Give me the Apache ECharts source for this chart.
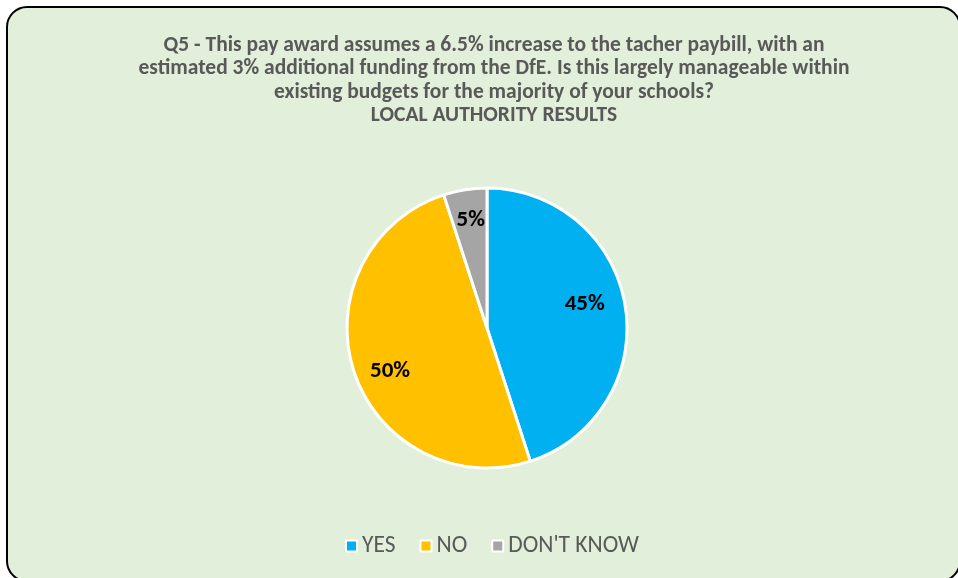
<!DOCTYPE html>
<html>
<head>
<meta charset="utf-8">
<script src="https://cdn.jsdelivr.net/npm/echarts@6/dist/echarts.min.js"></script>
<style>
  html, body { margin: 0; padding: 0; background: #ffffff; }
  #chart { width: 958px; height: 578px; }
</style>
</head>
<body>
<div id="chart"></div>
<script>
// Survey answers for Q5 (local authority results)
const categories = ['YES', 'NO', "DON'T KNOW"];
const shares = [45, 50, 5];
const sliceColors = ['#00B0F0', '#FFC000', '#A5A5A5'];
const titleLines = [
  'Q5 - This pay award assumes a 6.5% increase to the tacher paybill, with an',
  'estimated 3% additional funding from the DfE. Is this largely manageable within',
  'existing budgets for the majority of your schools?',
  'LOCAL AUTHORITY RESULTS'
];
// small per-slice nudges for the percentage labels (best-fit style placement)
const labelNudge = [[-5, -7], [2, 11], [0, -5]];

const fontFamily = 'Carlito, Lato, "Open Sans", sans-serif';
const chart = echarts.init(document.getElementById('chart'), null, { renderer: 'canvas' });

const pieData = categories.map((name, i) => ({
  name,
  value: shares[i],
  itemStyle: { color: sliceColors[i] }
}));

const center = [487, 328];

chart.setOption({
  animation: false,
  graphic: [{
    type: 'rect',
    z: -10,
    shape: { x: 7, y: 7, width: 953, height: 574, r: 20 },
    style: { fill: '#E2EFDA', stroke: '#000000', lineWidth: 2 }
  }],
  title: {
    text: titleLines.join('\n'),
    left: 489,
    textAlign: 'center',
    top: 29,
    textStyle: {
      fontFamily,
      fontSize: 21.5,
      fontWeight: 'bold',
      color: '#595959',
      lineHeight: 23.3
    }
  },
  legend: {
    bottom: 15,
    left: 340,
    icon: 'rect',
    itemWidth: 11,
    itemHeight: 11,
    itemGap: 24,
    itemStyle: { borderColor: '#ffffff', borderWidth: 2 },
    textStyle: { fontFamily, fontSize: 23.5, color: '#595959', padding: [2, 0, 0, 0] },
    data: categories
  },
  series: [
    {
      type: 'pie',
      center,
      radius: [0, 140],
      startAngle: 90,
      clockwise: true,
      itemStyle: { borderColor: '#ffffff', borderWidth: 3 },
      label: { show: false },
      labelLine: { show: false },
      emphasis: { disabled: true },
      data: pieData
    },
    {
      // invisible twin pie used only to place the percentage labels further out
      type: 'pie',
      center,
      radius: [0, 202],
      startAngle: 90,
      clockwise: true,
      silent: true,
      legendHoverLink: false,
      itemStyle: { color: 'transparent', borderWidth: 0 },
      label: {
        show: true,
        position: 'inside',
        formatter: p => p.value + '%',
        fontFamily,
        fontSize: 23,
        fontWeight: 'bold',
        color: '#000000'
      },
      labelLayout: p => ({ dx: labelNudge[p.dataIndex][0], dy: labelNudge[p.dataIndex][1] }),
      labelLine: { show: false },
      emphasis: { disabled: true },
      data: categories.map((name, i) => ({ name, value: shares[i] }))
    }
  ]
});
</script>
</body>
</html>
